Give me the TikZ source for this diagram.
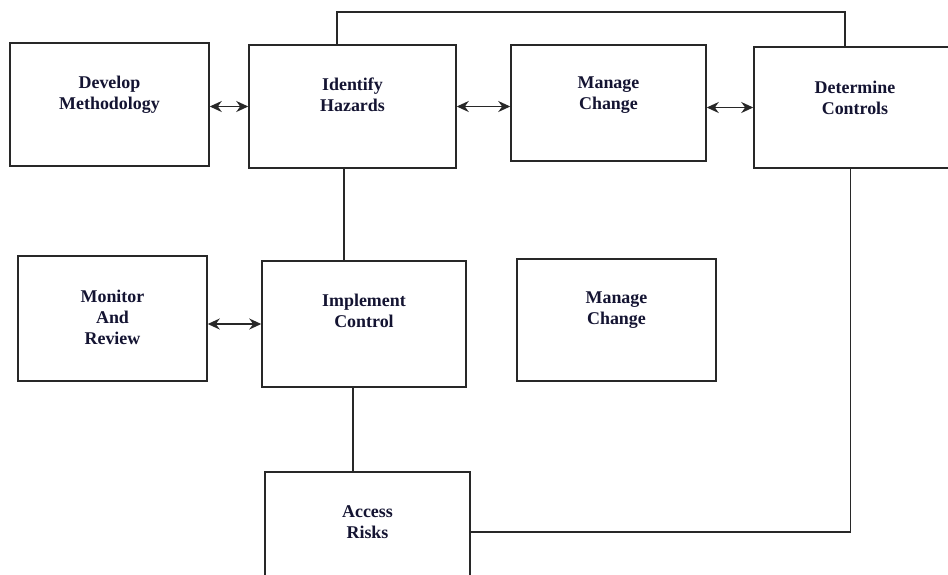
\documentclass[tikz,border=0pt]{standalone}
\usepackage{fontspec}
\setmainfont{Liberation Serif}
\definecolor{inknavy}{RGB}{20, 20, 50}
\definecolor{linegray}{RGB}{40, 40, 40}
\usetikzlibrary{arrows.meta, positioning, calc}

\begin{document}
\begin{tikzpicture}[
  sbox/.style={draw=linegray, line width=0.85pt, fill=white, inner sep=0pt},
  lbl/.style={align=center, font=\bfseries\fontsize{10.2}{12}\selectfont, text=inknavy, inner sep=1pt},
  link/.style={draw=linegray, line width=0.9pt},
  dbl/.style={link, {Stealth[length=2.4mm, width=2.2mm]}-{Stealth[length=2.4mm, width=2.2mm]}}
]
  \useasboundingbox (0,0) rectangle (18.96,-11.48);
  \clip (0,0) rectangle (18.96,-11.48);

  \node[sbox, minimum width=3.98cm, minimum height=2.46cm] (dev) at (2.19, -2.09) {};
  \node[sbox, minimum width=4.14cm, minimum height=2.46cm] (idh) at (7.05, -2.13) {};
  \node[sbox, minimum width=3.90cm, minimum height=2.32cm] (mct) at (12.17, -2.06) {};
  \node[sbox, minimum width=4.12cm, minimum height=2.42cm] (det) at (17.14, -2.15) {};
  \node[sbox, minimum width=3.78cm, minimum height=2.50cm] (mon) at (2.25, -6.37) {};
  \node[sbox, minimum width=4.08cm, minimum height=2.52cm] (imp) at (7.28, -6.48) {};
  \node[sbox, minimum width=3.98cm, minimum height=2.44cm] (mcm) at (12.33, -6.40) {};
  \node[sbox, minimum width=4.10cm, minimum height=2.40cm] (acc) at (7.35, -10.64) {};

  \node[lbl] (devT) at (2.19, -1.90) {Develop\\Methodology};
  \node[lbl] (idhT) at (7.05, -1.90) {Identify\\Hazards};
  \node[lbl] (mctT) at (12.17, -1.90) {Manage\\Change};
  \node[lbl] (detT) at (17.10, -1.96) {Determine\\Controls};
  \node[lbl] (monT) at (2.25, -6.34) {Monitor\\And\\Review};
  \node[lbl] (impT) at (7.28, -6.22) {Implement\\Control};
  \node[lbl] (mcmT) at (12.33, -6.20) {Manage\\Change};
  \node[lbl] (accT) at (7.35, -10.44) {Access\\Risks};

  \draw[dbl] (dev.east |- idh.west) -- (idh.west);
  \draw[dbl] (idh.east) -- (idh.east -| mct.west);
  \draw[dbl] (det.west -| mct.east) -- (det.west);
  \draw[dbl] (imp.west -| mon.east) -- (imp.west);

  \draw[link] ([xshift=-1.7mm]idh.south) -- ([xshift=-1.7mm]idh.south |- imp.north);
  \draw[link] ([xshift=-2.2mm]imp.south) -- ([xshift=-2.2mm]imp.south |- acc.north);
  \draw[link] ([xshift=-3.1mm]idh.north) -- ++(0,0.64) -| ([xshift=-2.4mm]det.north);
  \draw[link] (acc.east) -| ([xshift=-1.3mm]det.south);
\end{tikzpicture}
\end{document}
